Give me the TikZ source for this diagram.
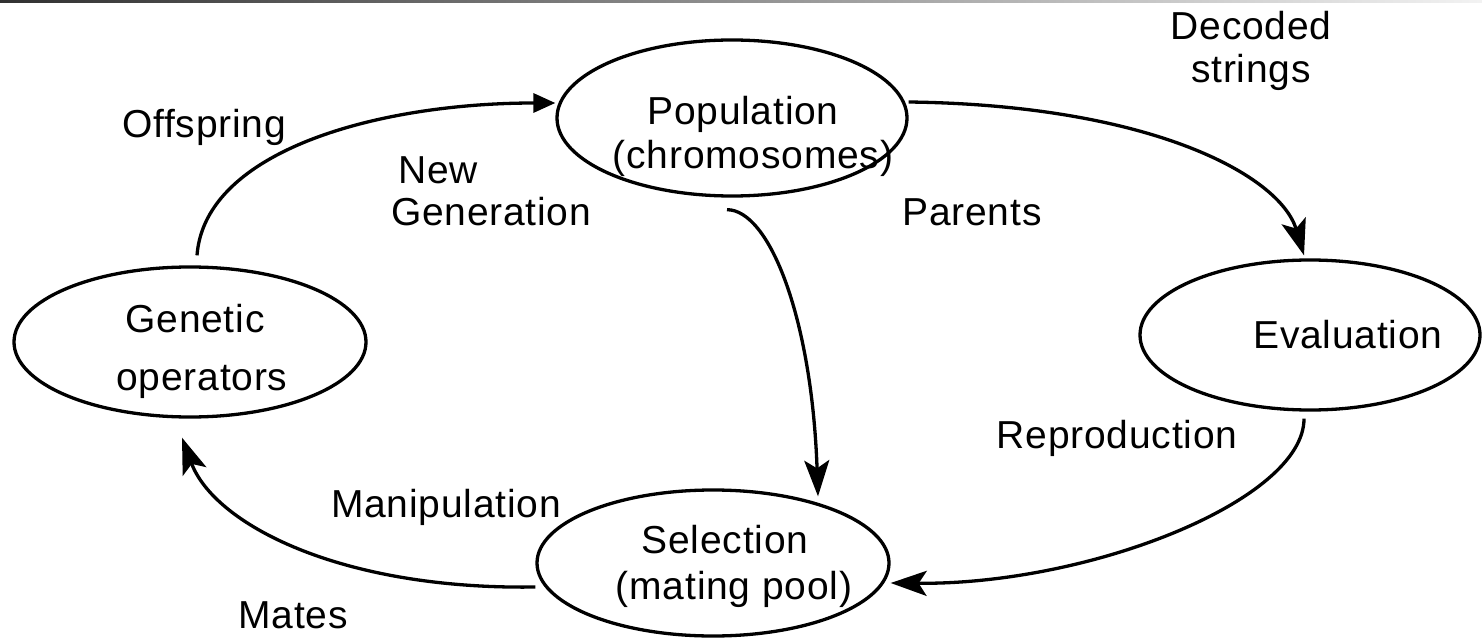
\documentclass[tikz,border=0pt]{standalone}
\usepackage{fontspec}
\setmainfont{Liberation Sans}[LetterSpace=2]
\usetikzlibrary{shapes.geometric,arrows.meta}

\tikzset{
  stage/.style={ellipse, draw, line width=3.3pt, inner sep=0pt},
  lbl/.style={font=\fontsize{39}{47}\selectfont, anchor=base, inner sep=0pt},
  flow/.style={line width=3.3pt, -{Stealth[length=36pt,width=25pt,inset=8pt]}},
  feed/.style={line width=3.3pt, -{Triangle[length=22pt,width=19pt]}}
}

\begin{document}
\begin{tikzpicture}[x=1pt,y=-1pt]
  % page frame and the thin shaded rule along the top edge
  \fill[white] (0,0) rectangle (1482,639);
  \useasboundingbox (0,0) rectangle (1482,639);
  \shade[left color=black!81, middle color=black!30, right color=black!5]
    (0,0) rectangle (1482,2.5);

  % the four stages of the cycle
  \node[stage, minimum width=350pt, minimum height=156pt] (pop) at (732,118) {};
  \node[stage, minimum width=352pt, minimum height=150pt] (gen) at (190,342) {};
  \node[stage, minimum width=340pt, minimum height=150pt] (eva) at (1310,335) {};
  \node[stage, minimum width=352pt, minimum height=146pt] (sel) at (713,563) {};

  % stage texts
  \node[lbl] (popA) at (743,125) {Population};
  \node[lbl] (popB) at (753,168) {(chromosomes)};
  \node[lbl] (genA) at (195,332) {Genetic};
  \node[lbl] (genB) at (202,390) {operators};
  \node[lbl] (evaA) at (1348,348) {Evaluation};
  \node[lbl] (selA) at (725,553) {Selection};
  \node[lbl] (selB) at (734,599) {(mating pool)};

  % edge labels
  \node[lbl] (decA) at (1251,40) {Decoded};
  \node[lbl] (decB) at (1251,83) {strings};
  \node[lbl] (offs) at (204,138) {Offspring};
  \node[lbl] (newA) at (438,183) {New};
  \node[lbl] (newB) at (491,225) {Generation};
  \node[lbl] (par)  at (972,225) {Parents};
  \node[lbl] (rep)  at (1117,448) {Reproduction};
  \node[lbl] (man)  at (446,517) {Manipulation};
  \node[lbl] (mat)  at (293,628) {Mates};

  % connectors
  \draw[feed] ([xshift=7pt,yshift=10pt]gen.north)
    .. controls (205,150) and (380,103) .. ([yshift=15pt]pop.west);
  \draw[flow] ([yshift=16pt]pop.east)
    .. controls (1150,105) and (1280,175) .. ([xshift=-6pt,yshift=3pt]eva.north);
  \draw[flow] ([xshift=-5pt,yshift=-12pt]pop.south)
    .. controls (770,210) and (812,320) .. ([xshift=105pt,yshift=-8pt]sel.north);
  \draw[flow] ([xshift=-6pt,yshift=-7pt]eva.south)
    .. controls (1304,500) and (1090,585) .. ([yshift=-20pt]sel.east);
  \draw[flow] ([yshift=-24pt]sel.west)
    .. controls (340,590) and (214,524) .. ([xshift=-8pt,yshift=-19pt]gen.south);
\end{tikzpicture}
\end{document}
